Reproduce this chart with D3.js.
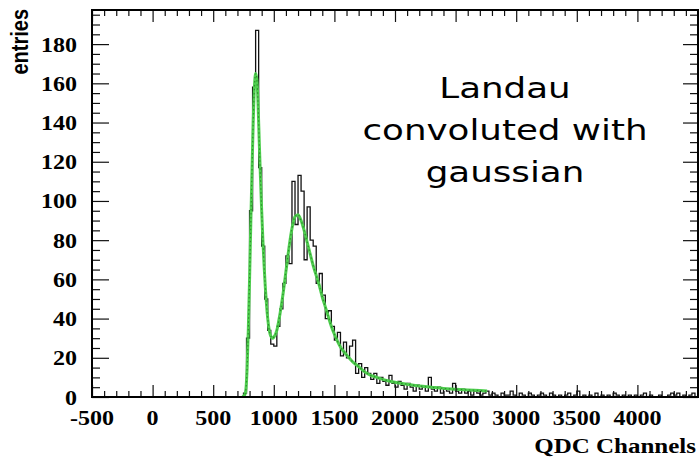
<!DOCTYPE html>
<html>
<head>
<meta charset="utf-8">
<script src="https://cdn.jsdelivr.net/npm/d3@7/dist/d3.min.js"></script>
<style>
  html, body { margin: 0; padding: 0; background: #fff; }
  svg { display: block; }
</style>
</head>
<body>
<svg id="chart" width="700" height="458"></svg>
<script>
// QDC spectrum: histogram of entries per channel bin, with a Landau (x) Gauss fit.
const binStart = 700;
const binWidth = 25;
const counts = [
  0, 0, 2, 30, 95, 158, 187, 117, 77, 50, 34, 27, 26, 36, 45, 58,
  72, 68, 110, 88, 113, 105, 70, 97, 80, 77, 58, 63, 52, 40, 44, 36,
  29, 33, 21, 28, 20, 26, 29, 12, 17, 10, 15, 12, 9, 12, 7, 10,
  8, 6, 11, 7, 5, 8, 6, 4, 7, 5, 3, 6, 4, 5, 3, 10,
  4, 3, 5, 2, 4, 3, 2, 7, 3, 2, 4, 2, 3, 1, 3, 2,
  1, 2, 3, 1, 2, 1, 0, 2, 1, 1, 3, 1, 0, 2, 1, 0,
  2, 1, 0, 1, 2, 1, 0, 2, 1, 0, 1, 0, 1, 2, 0, 1,
  3, 0, 1, 0, 1, 0, 2, 0, 1, 0, 1, 0, 2, 1, 0, 1,
  0, 1, 0, 1, 0, 1, 2, 0, 1, 0, 0, 1, 0, 0, 1, 2,
  1, 2, 0, 1, 0, 1, 2, 0
];

// Fitted Landau convoluted with Gaussian, sampled along the channel axis.
const fitChannels = [
  740, 760, 770, 780, 790, 800, 810, 820, 830, 840, 850, 860, 870, 880, 890, 900,
  910, 920, 930, 940, 950, 960, 970, 980, 990, 1000, 1025, 1050, 1075, 1100, 1125, 1150,
  1175, 1200, 1225, 1250, 1275, 1300, 1325, 1350, 1375, 1400, 1425, 1450, 1475, 1500, 1525, 1550,
  1600, 1650, 1700, 1750, 1800, 1850, 1900, 1950, 2000, 2100, 2200, 2300, 2400, 2500, 2600, 2700,
  2760
];
const fitValues = [
  0, 1, 4, 15, 35, 60, 88, 115, 140, 158, 165, 162, 150, 130, 112, 95,
  80, 67, 56, 47, 40, 35, 32, 30.5, 30, 30.5, 34, 42, 52, 64, 76, 86,
  92, 93, 90, 85, 79, 73, 67, 62, 57, 51, 46, 41, 36, 32, 28.5, 25.5,
  21.5, 18, 15.5, 12.8, 11, 10, 9, 8.2, 7.5, 6.5, 5.6, 5, 4.4, 4, 3.6, 3.3,
  3.1
];

const xMajorTicks = [-500, 0, 500, 1000, 1500, 2000, 2500, 3000, 3500, 4000];
const yMajorTicks = [0, 20, 40, 60, 80, 100, 120, 140, 160, 180];
const xDomain = [-500, 4500];
const yDomain = [0, 197.4];

const plot = { left: 92, right: 698, top: 10, bottom: 397 };
const svg = d3.select("#chart");

const x = d3.scaleLinear().domain(xDomain).range([plot.left, plot.right]);
const y = d3.scaleLinear().domain(yDomain).range([plot.bottom, plot.top]);

svg.append("defs").append("clipPath").attr("id", "plotClip")
  .append("rect")
  .attr("x", plot.left).attr("y", plot.top)
  .attr("width", plot.right - plot.left).attr("height", plot.bottom - plot.top);

// Histogram drawn as a step outline
const binned = counts.map((v, i) => ({ c: binStart + i * binWidth, v }));
binned.push({ c: binStart + counts.length * binWidth, v: 0 });
const histLine = d3.line()
  .x(d => x(d.c))
  .y(d => y(d.v))
  .curve(d3.curveStepAfter);

const plotArea = svg.append("g").attr("clip-path", "url(#plotClip)");
plotArea.append("path")
  .datum(binned)
  .attr("fill", "none")
  .attr("stroke", "#111")
  .attr("stroke-width", 1.3)
  .attr("d", histLine);

// Fit curve: green line with a darker dotted core
const fitData = fitChannels.map((c, i) => ({ c, v: fitValues[i] }));
const fitLine = d3.line()
  .x(d => x(d.c))
  .y(d => y(d.v))
  .curve(d3.curveMonotoneX);

plotArea.append("path")
  .datum(fitData)
  .attr("fill", "none")
  .attr("stroke", "#4fcf4f")
  .attr("stroke-width", 3)
  .attr("stroke-linejoin", "round")
  .attr("d", fitLine);
plotArea.append("path")
  .datum(fitData)
  .attr("fill", "none")
  .attr("stroke", "#2f8f2f")
  .attr("stroke-width", 1.2)
  .attr("stroke-dasharray", "1.5,2.5")
  .attr("d", fitLine);

// Axes with major and minor ticks on all four sides
const xMinor = d3.range(-500, 4500 + 1, 100).filter(v => v % 500 !== 0);
const yMinor = d3.range(0, 197, 5).filter(v => v % 20 !== 0);

function tickAxis(axisFn, scale, values, size, transform) {
  const g = svg.append("g")
    .attr("transform", transform)
    .call(axisFn(scale).tickValues(values).tickSize(size).tickFormat(""));
  g.select(".domain").remove();
  g.selectAll(".tick line").attr("stroke", "#111").attr("stroke-width", 1.2);
  return g;
}

tickAxis(d3.axisBottom, x, xMajorTicks, -12, `translate(0,${plot.bottom})`);
tickAxis(d3.axisBottom, x, xMinor, -6, `translate(0,${plot.bottom})`);
tickAxis(d3.axisTop, x, xMajorTicks, -12, `translate(0,${plot.top})`);
tickAxis(d3.axisTop, x, xMinor, -6, `translate(0,${plot.top})`);
tickAxis(d3.axisLeft, y, yMajorTicks, -17, `translate(${plot.left},0)`);
tickAxis(d3.axisLeft, y, yMinor, -8, `translate(${plot.left},0)`);
tickAxis(d3.axisRight, y, yMajorTicks, -15, `translate(${plot.right},0)`);
tickAxis(d3.axisRight, y, yMinor, -8, `translate(${plot.right},0)`);

// Frame
svg.append("rect")
  .attr("x", plot.left).attr("y", plot.top)
  .attr("width", plot.right - plot.left).attr("height", plot.bottom - plot.top)
  .attr("fill", "none")
  .attr("stroke", "#000")
  .attr("stroke-width", 2);

// Tick labels (bold serif, slightly widened)
const labelFont = "'Liberation Serif', 'Times New Roman', serif";
const widen = 1.2;

svg.append("g").selectAll("text")
  .data(xMajorTicks)
  .join("text")
  .attr("transform", d => `translate(${x(d)},425) scale(${widen},1)`)
  .attr("text-anchor", "middle")
  .attr("font-family", labelFont)
  .attr("font-weight", "bold")
  .attr("font-size", 20)
  .attr("fill", "#000")
  .text(d => d);

svg.append("g").selectAll("text")
  .data(yMajorTicks)
  .join("text")
  .attr("transform", d => `translate(77,${y(d) + 7.5}) scale(${widen},1)`)
  .attr("text-anchor", "end")
  .attr("font-family", labelFont)
  .attr("font-weight", "bold")
  .attr("font-size", 20)
  .attr("fill", "#000")
  .text(d => d);

// Axis titles
svg.append("text")
  .attr("transform", `translate(696,453) scale(1.25,1)`)
  .attr("text-anchor", "end")
  .attr("font-family", labelFont)
  .attr("font-weight", "bold")
  .attr("font-size", 20)
  .attr("fill", "#000")
  .text("QDC Channels");

svg.append("text")
  .attr("transform", `translate(28,9) scale(1.2,1) rotate(-90)`)
  .attr("text-anchor", "end")
  .attr("font-family", "'Liberation Sans', Arial, sans-serif")
  .attr("font-weight", "bold")
  .attr("font-size", 20)
  .attr("fill", "#000")
  .text("entries");

// Annotation
const noteLines = ["Landau", "convoluted with", "gaussian"];
const noteBaselines = [98, 140, 182];
svg.append("g").selectAll("text")
  .data(noteLines)
  .join("text")
  .attr("transform", (d, i) => `translate(505,${noteBaselines[i]}) scale(1.23,1)`)
  .attr("text-anchor", "middle")
  .attr("font-family", "'DejaVu Sans', Verdana, sans-serif")
  .attr("font-size", 29)
  .attr("fill", "#000")
  .text(d => d);
</script>
</body>
</html>
